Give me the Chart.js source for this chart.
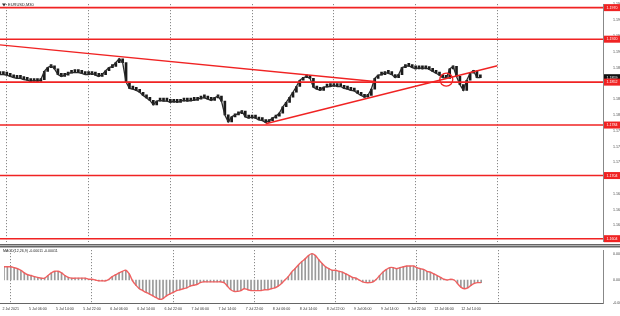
<!DOCTYPE html>
<html>
<head>
<meta charset="utf-8">
<script src="https://cdn.jsdelivr.net/npm/chart.js@4/dist/chart.umd.min.js"></script>
<style>
  html, body { margin: 0; padding: 0; background: #fff; }
  #wrap { position: relative; width: 620px; height: 316px; }
  #main { position: absolute; left: 0; top: 0; }
  #macd { position: absolute; left: 0; top: 246px; }
</style>
</head>
<body>
<div id="wrap">
  <canvas id="main" width="620" height="246"></canvas>
  <canvas id="macd" width="620" height="70"></canvas>
</div>
<script>
// hourly slots, the chart opens on Fri 2 Jul 20:00
const days = ["2 Jul", "5 Jul", "6 Jul", "7 Jul", "8 Jul", "9 Jul", "12 Jul", "13 Jul", "14 Jul"];
const slotCount = 178;

const tickLabels = ["2 Jul 2021", "5 Jul 06:00", "5 Jul 14:00", "5 Jul 22:00", "6 Jul 06:00", "6 Jul 14:00",
  "6 Jul 22:00", "7 Jul 06:00", "7 Jul 14:00", "7 Jul 22:00", "8 Jul 06:00", "8 Jul 14:00", "8 Jul 22:00",
  "9 Jul 06:00", "9 Jul 14:00", "9 Jul 22:00", "12 Jul 06:00", "12 Jul 14:00"];
const gridMarks = ["2 Jul 22:00", "5 Jul 22:00", "6 Jul 22:00", "7 Jul 22:00", "8 Jul 22:00", "9 Jul 22:00", "12 Jul 22:00"];

// EURUSD hourly closes
const closes = [
  1.1864, 1.1864, 1.1863, 1.1861, 1.1859, 1.1858, 1.1858, 1.1856, 1.1855, 1.1853,
  1.1855, 1.1853, 1.1856, 1.1869, 1.1875, 1.1878, 1.1873, 1.1864, 1.1861, 1.1863,
  1.1866, 1.1867, 1.1867, 1.1867, 1.1866, 1.1864, 1.1864, 1.1866, 1.1863, 1.1861,
  1.1864, 1.1870, 1.1875, 1.1877, 1.1883, 1.1889, 1.1883, 1.1852, 1.1842, 1.1841,
  1.1839, 1.1836, 1.1831, 1.1827, 1.1823, 1.1816, 1.1822, 1.1823, 1.1822, 1.1822,
  1.1820, 1.1822, 1.1820, 1.1822, 1.1823, 1.1822, 1.1823, 1.1823, 1.1825, 1.1827,
  1.1827, 1.1825, 1.1823, 1.1827, 1.1830, 1.1822, 1.1800, 1.1789, 1.1797, 1.1800,
  1.1802, 1.1806, 1.1797, 1.1795, 1.1797, 1.1795, 1.1792, 1.1791, 1.1788, 1.1791,
  1.1795, 1.1798, 1.1803, 1.1813, 1.1820, 1.1828, 1.1836, 1.1845, 1.1855, 1.1859,
  1.1861, 1.1858, 1.1844, 1.1841, 1.1839, 1.1844, 1.1845, 1.1845, 1.1847, 1.1845,
  1.1845, 1.1842, 1.1841, 1.1839, 1.1838, 1.1834, 1.1831, 1.1828, 1.1831, 1.1841,
  1.1858, 1.1863, 1.1864, 1.1867, 1.1866, 1.1864, 1.1859, 1.1864, 1.1875, 1.1877,
  1.1878, 1.1875, 1.1873, 1.1875, 1.1873, 1.1875, 1.1872, 1.1869, 1.1866, 1.1863,
  1.1859, 1.1858, 1.1873, 1.1877, 1.1861, 1.1848, 1.1839, 1.1855, 1.1866, 1.1870,
  1.1859, 1.1859
];

// MACD(12,26,9) histogram, hourly
const macd = [
  0.00050, 0.00050, 0.00050, 0.00047, 0.00043, 0.00037, 0.00027, 0.00020, 0.00017, 0.00013,
  0.00010, 0.00007, 0.00007, 0.00017, 0.00027, 0.00033, 0.00033, 0.00027, 0.00017, 0.00010,
  0.00007, 0.00007, 0.00007, 0.00007, 0.00007, 0.00003, 0.00003, 0.00000, -0.00003, -0.00003,
  -0.00003, 0.00003, 0.00013, 0.00020, 0.00027, 0.00033, 0.00037, 0.00023, -0.00003, -0.00020,
  -0.00033, -0.00040, -0.00047, -0.00053, -0.00060, -0.00067, -0.00073, -0.00070, -0.00060, -0.00053,
  -0.00047, -0.00040, -0.00037, -0.00033, -0.00030, -0.00023, -0.00020, -0.00017, -0.00010, -0.00007,
  -0.00007, -0.00007, -0.00007, -0.00007, -0.00007, -0.00010, -0.00023, -0.00037, -0.00043, -0.00043,
  -0.00040, -0.00033, -0.00037, -0.00040, -0.00040, -0.00040, -0.00040, -0.00037, -0.00037, -0.00033,
  -0.00030, -0.00023, -0.00013, 0.00000, 0.00013, 0.00030, 0.00043, 0.00057, 0.00070, 0.00080,
  0.00093, 0.00100, 0.00093, 0.00077, 0.00063, 0.00050, 0.00043, 0.00037, 0.00037, 0.00033,
  0.00030, 0.00023, 0.00017, 0.00010, 0.00007, 0.00000, -0.00007, -0.00010, -0.00010, -0.00007,
  0.00003, 0.00017, 0.00030, 0.00040, 0.00047, 0.00047, 0.00043, 0.00047, 0.00050, 0.00053,
  0.00053, 0.00053, 0.00047, 0.00043, 0.00040, 0.00033, 0.00030, 0.00023, 0.00017, 0.00010,
  0.00003, 0.00000, 0.00003, 0.00000, -0.00013, -0.00027, -0.00033, -0.00030, -0.00020, -0.00013,
  -0.00010, -0.00010
];

const levels = [1.1970, 1.1920, 1.1852, 1.1784, 1.1704, 1.1604];
const trendDown = [["2 Jul 20:00", 1.1911], ["9 Jul 10:00", 1.1853]];
const trendUp = [["8 Jul 02:00", 1.1786], ["12 Jul 22:00", 1.1878]];
const circleMark = ["12 Jul 07:00", 1.1856];

const priceTicks = [1.1625, 1.1650, 1.1675, 1.1700, 1.1725, 1.1750, 1.1775, 1.1800, 1.1825, 1.1850,
  1.1875, 1.1900, 1.1925, 1.1950, 1.1975];
const macdTicks = [-0.00087, 0, 0.001];
const macdTickLabels = ["-0.00087", "0.00", "0.001"];

const categories = [];
days.forEach((d, k) => {
  for (let h = k === 0 ? 20 : 0; h < 24; h++) {
    if (categories.length < slotCount) categories.push(d + " " + String(h).padStart(2, "0") + ":00");
  }
});

const FONT = "Liberation Sans";
const RED = "#f02323";
const tiny = { family: FONT, size: 3.6 };

const xGrid = {
  offset: false,
  drawTicks: false,
  lineWidth: 1,
  color: (c) => gridMarks.includes(categories[c.index]) ? "rgba(70,70,70,0.75)" : "rgba(0,0,0,0)"
};

const segment = (pts) => pts.map(p => ({ x: p[0], y: p[1] }));

const mainOverlay = {
  id: "mainOverlay",
  afterDraw(chart) {
    const { ctx, chartArea: a, scales: { y } } = chart;
    ctx.save();
    ctx.font = "3.6px " + FONT;
    ctx.textAlign = "center";
    ctx.textBaseline = "middle";
    const tag = (v, bg) => {
      const py = y.getPixelForValue(v);
      ctx.fillStyle = bg;
      ctx.fillRect(a.right + 1, py - 3.5, 16, 7);
      ctx.fillStyle = "#fff";
      ctx.fillText(v.toFixed(4), a.right + 9, py);
    };
    tag(closes[closes.length - 1], "#111");
    levels.forEach(v => tag(v, RED));
    // panel separator
    ctx.fillStyle = "#666";
    ctx.fillRect(0, chart.height - 2, chart.width, 1.5);
    // header
    ctx.fillStyle = "#333";
    ctx.beginPath();
    ctx.moveTo(2, 3.5); ctx.lineTo(6, 3.5); ctx.lineTo(4, 6.5); ctx.closePath(); ctx.fill();
    ctx.font = "4px " + FONT;
    ctx.textAlign = "left";
    ctx.fillStyle = "#222";
    ctx.fillText("EURUSD,M30", 8, 5);
    ctx.restore();
  }
};

new Chart(document.getElementById("main"), {
  type: "bar",
  data: {
    labels: categories,
    datasets: [
      ...levels.map(v => ({
        type: "line",
        data: [{ x: categories[0], y: v }, { x: categories[slotCount - 1], y: v }],
        borderColor: RED, borderWidth: 1.6, pointRadius: 0
      })),
      { type: "line", data: segment(trendDown), borderColor: RED, borderWidth: 1.4, pointRadius: 0 },
      { type: "line", data: segment(trendUp), borderColor: RED, borderWidth: 1.4, pointRadius: 0 },
      {
        type: "line", data: [{ x: circleMark[0], y: circleMark[1] }], showLine: false,
        pointRadius: 6.5, pointBorderColor: RED, pointBackgroundColor: "rgba(0,0,0,0)", pointBorderWidth: 1.3
      },
      { type: "line", data: closes, borderColor: "#2a2a2a", borderWidth: 1.3, pointRadius: 0 },
      {
        type: "bar",
        data: closes.map((c, i) => [i ? closes[i - 1] : c, c]),
        backgroundColor: "#1a1a1a", borderWidth: 0, barThickness: 2, minBarLength: 3
      }
    ]
  },
  options: {
    responsive: false,
    animation: false,
    devicePixelRatio: 1,
    layout: { autoPadding: false, padding: { top: 0, bottom: 3, left: 0, right: 0 } },
    plugins: { legend: { display: false }, tooltip: { enabled: false } },
    scales: {
      x: {
        type: "category", offset: false,
        grid: xGrid,
        border: { display: false, dash: [1, 2] },
        ticks: { display: false }
      },
      y: {
        position: "right", min: 1.1599, max: 1.19755,
        afterFit: (s) => { s.width = 17; },
        afterBuildTicks: (s) => { s.ticks = priceTicks.map(v => ({ value: v })); },
        grid: { display: false },
        border: { display: true, color: "#888", width: 1 },
        ticks: { font: tiny, color: "#444", padding: 2, callback: (v) => v.toFixed(4) }
      }
    }
  },
  plugins: [mainOverlay]
});

const macdOverlay = {
  id: "macdOverlay",
  afterDraw(chart) {
    const { ctx, chartArea: a } = chart;
    ctx.save();
    ctx.fillStyle = "#666";
    ctx.fillRect(0, 0, chart.width, 1.5);
    ctx.fillRect(0, a.bottom, a.right, 1);
    ctx.font = "3.6px " + FONT;
    ctx.fillStyle = "#222";
    ctx.textBaseline = "middle";
    ctx.fillText("MACD(12,26,9) -0.00011 -0.00011", 3, 5);
    ctx.restore();
  }
};

new Chart(document.getElementById("macd"), {
  type: "bar",
  data: {
    labels: categories,
    datasets: [
      {
        type: "line", data: macd, borderColor: "rgba(240,90,90,0.95)", borderWidth: 1.4,
        pointRadius: 0, tension: 0.4
      },
      { type: "bar", data: macd, backgroundColor: "#9a9a9a", borderWidth: 0, barThickness: 1 }
    ]
  },
  options: {
    responsive: false,
    animation: false,
    devicePixelRatio: 1,
    layout: { autoPadding: false, padding: 0 },
    plugins: { legend: { display: false }, tooltip: { enabled: false } },
    scales: {
      x: {
        type: "category", offset: false,
        grid: xGrid,
        border: { display: false, dash: [1, 2] },
        afterFit: (s) => { s.height = 13; },
        ticks: {
          font: tiny, color: "#333", padding: 4, maxRotation: 0, minRotation: 0, autoSkip: false,
          callback: (v, i) => {
            const name = categories[i];
            if (name === "2 Jul 22:00") return tickLabels[0];
            return tickLabels.includes(name) ? name : "";
          }
        }
      },
      y: {
        position: "right", min: -0.00087, max: 0.00113,
        afterFit: (s) => { s.width = 17; },
        afterBuildTicks: (s) => { s.ticks = macdTicks.map(v => ({ value: v })); },
        grid: { display: false },
        border: { display: true, color: "#888", width: 1 },
        ticks: { font: tiny, color: "#444", padding: 2, callback: (v) => macdTickLabels[macdTicks.indexOf(v)] }
      }
    }
  },
  plugins: [macdOverlay]
});
</script>
</body>
</html>
